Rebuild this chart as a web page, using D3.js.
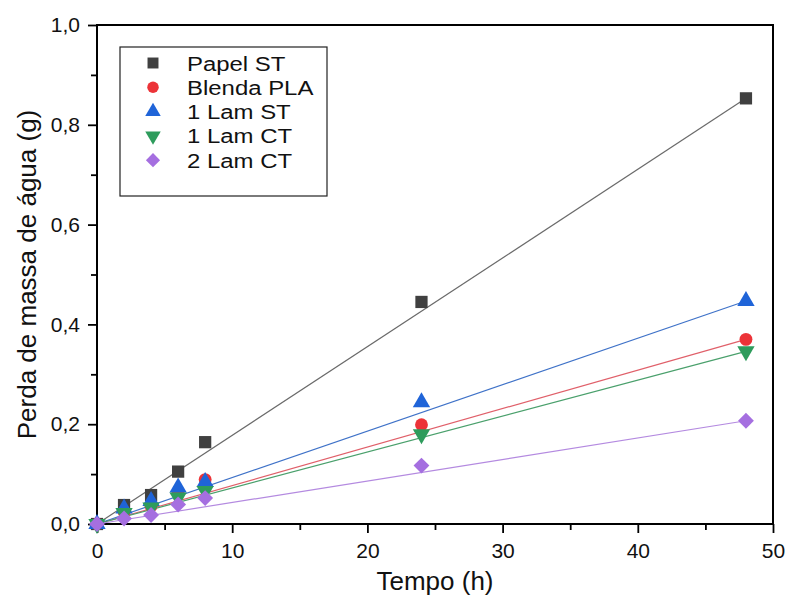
<!DOCTYPE html>
<html>
<head>
<meta charset="utf-8">
<script src="https://cdn.jsdelivr.net/npm/d3@7"></script>
<style>
  body { margin: 0; background: #fff; }
  svg { display: block; font-family: "Liberation Sans", Arial, sans-serif; }
</style>
</head>
<body>
<svg id="chart" width="789" height="596"></svg>
<script>
// Sampling times (h)
const tempo = [0, 2, 4, 6, 8, 24, 48];

// Water mass loss (g) for each sample
const papelST   = [0, 0.038, 0.058, 0.105, 0.164, 0.445, 0.853];
const blendaPLA = [0, 0.024, 0.036, 0.062, 0.089, 0.199, 0.370];
const lam1ST    = [0, 0.031, 0.046, 0.073, 0.084, 0.244, 0.447];
const lam1CT    = [0, 0.022, 0.033, 0.053, 0.066, 0.180, 0.346];
const lam2CT    = [0, 0.011, 0.018, 0.039, 0.052, 0.117, 0.207];

const seriesNames = ["Papel ST", "Blenda PLA", "1 Lam ST", "1 Lam CT", "2 Lam CT"];
const seriesValues = [papelST, blendaPLA, lam1ST, lam1CT, lam2CT];

// Slopes of the linear fits (g/h), lines through the origin
const fitSlopes = [0.01777, 0.00771, 0.00931, 0.00721, 0.00431];

const xTicks = [0, 10, 20, 30, 40, 50];
const xMinor = [5, 15, 25, 35, 45];
const yTicks = [0, 0.2, 0.4, 0.6, 0.8, 1.0];
const yMinor = [0.1, 0.3, 0.5, 0.7, 0.9];

const styles = [
  { color: "#404040", line: "#6a6a6a", symbol: d3.symbolSquare, size: 150, rot: 0 },
  { color: "#ec3338", line: "#e0606a", symbol: d3.symbolCircle, size: 130, rot: 0 },
  { color: "#1f64d8", line: "#3f72c8", symbol: d3.symbolTriangle, size: 130, rot: 0 },
  { color: "#2e9c5c", line: "#4aa06c", symbol: d3.symbolTriangle, size: 130, rot: 180 },
  { color: "#a56fe0", line: "#b48ae0", symbol: d3.symbolDiamond2, size: 160, rot: 0 }
];

const svg = d3.select("#chart");
const m = { left: 97, right: 773, top: 25, bottom: 524 };

const x = d3.scaleLinear().domain([0, 50]).range([m.left, m.right]);
const y = d3.scaleLinear().domain([0, 1.0]).range([m.bottom, m.top]);

const fmt = d => d3.format(".1f")(d).replace(".", ",");

// Frame
svg.append("rect")
  .attr("x", m.left).attr("y", m.top)
  .attr("width", m.right - m.left).attr("height", m.bottom - m.top)
  .attr("fill", "none").attr("stroke", "#000").attr("stroke-width", 2);

// Axes
const xAxis = svg.append("g").attr("transform", `translate(0,${m.bottom})`)
  .call(d3.axisBottom(x).tickValues(xTicks).tickFormat(d3.format("d")).tickSize(9).tickPadding(10));
const xAxisMinor = svg.append("g").attr("transform", `translate(0,${m.bottom})`)
  .call(d3.axisBottom(x).tickValues(xMinor).tickFormat("").tickSize(6));
const yAxis = svg.append("g").attr("transform", `translate(${m.left},0)`)
  .call(d3.axisLeft(y).tickValues(yTicks).tickFormat(fmt).tickSize(9).tickPadding(8));
const yAxisMinor = svg.append("g").attr("transform", `translate(${m.left},0)`)
  .call(d3.axisLeft(y).tickValues(yMinor).tickFormat("").tickSize(6));

[xAxis, xAxisMinor, yAxis, yAxisMinor].forEach(g => {
  g.select(".domain").remove();
  g.selectAll(".tick line").attr("stroke", "#000").attr("stroke-width", 1.8);
  g.selectAll(".tick text").attr("fill", "#111").style("font-size", "21px");
});

// Axis titles
svg.append("text")
  .attr("x", (m.left + m.right) / 2).attr("y", 590)
  .attr("text-anchor", "middle").style("font-size", "26px").attr("fill", "#111")
  .text("Tempo (h)");
svg.append("text")
  .attr("transform", `translate(36,${(m.top + m.bottom) / 2}) rotate(-90)`)
  .attr("text-anchor", "middle").style("font-size", "26px").attr("fill", "#111")
  .text("Perda de massa de água (g)");

// Linear fit lines
const plot = svg.append("g");
const xMax = d3.max(tempo);
fitSlopes.forEach((slope, i) => {
  plot.append("line")
    .attr("x1", x(0)).attr("y1", y(0))
    .attr("x2", x(xMax)).attr("y2", y(slope * xMax))
    .attr("stroke", styles[i].line).attr("stroke-width", 1.2);
});

// Markers
seriesValues.forEach((vals, i) => {
  const s = styles[i];
  const sym = d3.symbol().type(s.symbol).size(s.size);
  plot.append("g").selectAll("path")
    .data(tempo.map((t, j) => [t, vals[j]]))
    .join("path")
    .attr("d", sym)
    .attr("transform", d => `translate(${x(d[0])},${y(d[1])}) rotate(${s.rot})`)
    .attr("fill", s.color);
});

// Legend
const lg = svg.append("g");
lg.append("rect")
  .attr("x", 120).attr("y", 47).attr("width", 207).attr("height", 149)
  .attr("fill", "#fff").attr("stroke", "#222").attr("stroke-width", 1.2);
seriesNames.forEach((name, i) => {
  const s = styles[i];
  const cy = 63 + i * 24.3;
  lg.append("path")
    .attr("d", d3.symbol().type(s.symbol).size(s.size * 0.8)())
    .attr("transform", `translate(153,${cy}) rotate(${s.rot})`)
    .attr("fill", s.color);
  lg.append("text")
    .attr("transform", `translate(187,${cy}) scale(1.14,1)`)
    .attr("dy", "0.36em")
    .style("font-size", "21px").attr("fill", "#111")
    .text(name);
});
</script>
</body>
</html>
